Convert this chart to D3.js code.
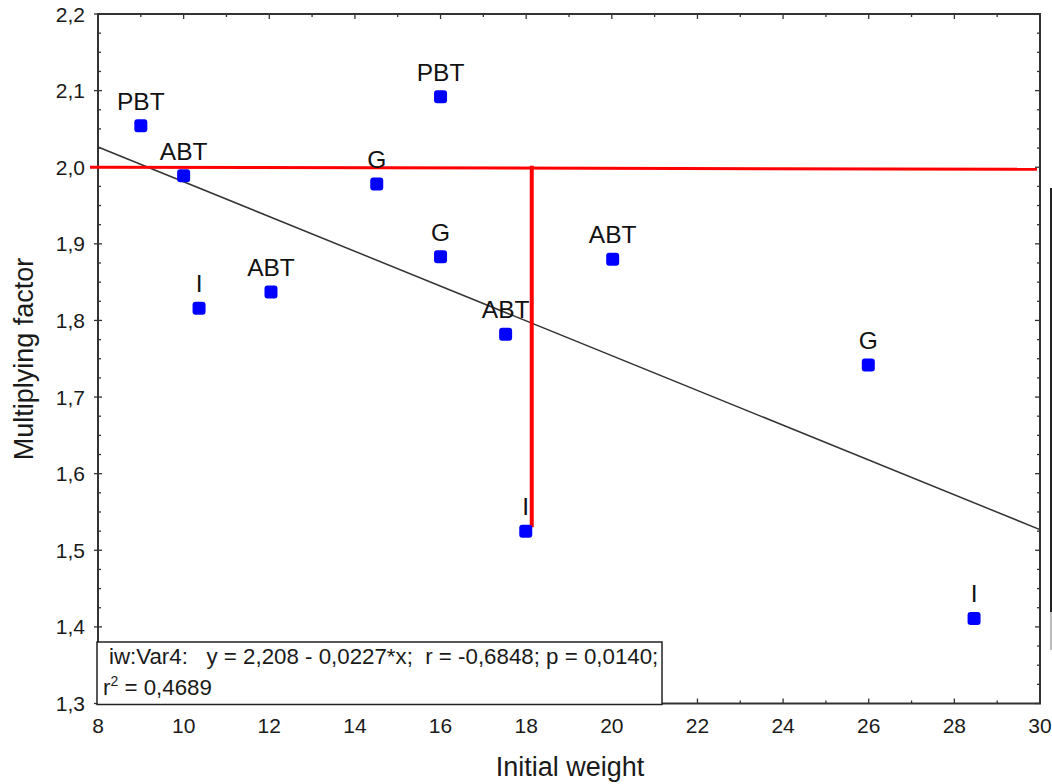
<!DOCTYPE html>
<html>
<head>
<meta charset="utf-8">
<script src="https://cdn.jsdelivr.net/npm/d3@7/dist/d3.min.js"></script>
<style>
    body { margin: 0; background: #fff; }
    svg { font-family: "Liberation Sans", Arial, sans-serif; }
    .tickLabel { font-size: 21px; fill: #1a1a1a; }
    .ptLabel { font-size: 24.5px; fill: #111; }
    .axisTitle { font-size: 27px; fill: #1a1a1a; }
    .regText { font-size: 22.3px; fill: #1a1a1a; white-space: pre; }
</style>
</head>
<body>
<svg id="chart" width="1052" height="784"></svg>
<script>
// data
var weights = [9.0, 10.0, 10.36, 12.04, 14.51, 16.0, 16.0, 17.52, 17.99, 20.02, 25.99, 28.46];
var factors = [2.054, 1.989, 1.816, 1.837, 1.978, 2.092, 1.883, 1.782, 1.525, 1.880, 1.742, 1.411];
var groups  = ["PBT", "ABT", "I", "ABT", "G", "PBT", "G", "ABT", "I", "ABT", "G", "I"];

var xTicks = [8, 10, 12, 14, 16, 18, 20, 22, 24, 26, 28, 30];
var yTicks = [1.3, 1.4, 1.5, 1.6, 1.7, 1.8, 1.9, 2.0, 2.1, 2.2];

// regression y = a + b*x
var regA = 2.208, regB = -0.0227;
var regLines = ["iw:Var4:   y = 2,208 - 0,0227*x;  r = -0,6848; p = 0,0140;", "= 0,4689"];

// red reference lines
var refLevel = 2.0, refX = 18.13, refYEnd = 1.53;

var svg = d3.select("#chart");
var pLeft = 98, pRight = 1040, pTop = 14, pBottom = 703.5;

var xScale = d3.scaleLinear().domain([8, 30]).range([pLeft, pRight]);
var yScale = d3.scaleLinear().domain([1.3, 2.2]).range([pBottom, pTop]);

var fmt = function(d) { return d3.format(".1f")(d).replace(".", ","); };

// minor ticks
var xMinor = d3.range(9, 30, 2);
var yMinor = d3.range(1.3, 2.2001, 0.025).filter(function(d) { return Math.abs(Math.round(d * 10) - d * 10) > 0.01; });

var ticks = svg.append("g").attr("stroke", "#333").attr("stroke-width", 1.3);

xTicks.forEach(function(d) {
    ticks.append("line").attr("x1", xScale(d)).attr("x2", xScale(d)).attr("y1", pBottom).attr("y2", pBottom - 5);
    ticks.append("line").attr("x1", xScale(d)).attr("x2", xScale(d)).attr("y1", pTop).attr("y2", pTop + 5);
});
xMinor.forEach(function(d) {
    ticks.append("line").attr("x1", xScale(d)).attr("x2", xScale(d)).attr("y1", pBottom).attr("y2", pBottom - 3);
    ticks.append("line").attr("x1", xScale(d)).attr("x2", xScale(d)).attr("y1", pTop).attr("y2", pTop + 3);
});
yTicks.forEach(function(d) {
    ticks.append("line").attr("x1", pLeft - 4).attr("x2", pLeft + 4).attr("y1", yScale(d)).attr("y2", yScale(d));
    ticks.append("line").attr("x1", pRight).attr("x2", pRight - 5).attr("y1", yScale(d)).attr("y2", yScale(d));
});
yMinor.forEach(function(d) {
    ticks.append("line").attr("x1", pLeft).attr("x2", pLeft + 3).attr("y1", yScale(d)).attr("y2", yScale(d));
    ticks.append("line").attr("x1", pRight).attr("x2", pRight - 3).attr("y1", yScale(d)).attr("y2", yScale(d));
});

// frame
svg.append("rect")
    .attr("x", pLeft).attr("y", pTop)
    .attr("width", pRight - pLeft).attr("height", pBottom - pTop)
    .attr("fill", "none").attr("stroke", "#333").attr("stroke-width", 2);

// tick labels
svg.selectAll(".xLab").data(xTicks).enter().append("text")
    .attr("class", "tickLabel")
    .attr("x", d => xScale(d)).attr("y", 733)
    .attr("text-anchor", "middle")
    .text(d => d);

svg.selectAll(".yLab").data(yTicks).enter().append("text")
    .attr("class", "tickLabel")
    .attr("x", 85).attr("y", d => yScale(d) + 7.5)
    .attr("text-anchor", "end")
    .text(fmt);

// axis titles
svg.append("text").attr("class", "axisTitle")
    .attr("x", 570).attr("y", 776).attr("text-anchor", "middle")
    .text("Initial weight");
svg.append("text").attr("class", "axisTitle")
    .attr("transform", "translate(33," + 359 + ") rotate(-90)")
    .attr("text-anchor", "middle")
    .text("Multiplying factor");

// regression line
svg.append("line")
    .attr("x1", xScale(8)).attr("y1", yScale(regA + regB * 8))
    .attr("x2", xScale(30)).attr("y2", yScale(regA + regB * 30))
    .attr("stroke", "#333").attr("stroke-width", 1.5);

// red lines
svg.append("line")
    .attr("x1", 90).attr("x2", pRight - 3)
    .attr("y1", yScale(refLevel)).attr("y2", yScale(refLevel) + 2)
    .attr("stroke", "#f00").attr("stroke-width", 3);
svg.append("line")
    .attr("x1", xScale(refX)).attr("x2", xScale(refX))
    .attr("y1", yScale(refLevel) - 1.5).attr("y2", yScale(refYEnd))
    .attr("stroke", "#f00").attr("stroke-width", 4);

// points
var pts = svg.selectAll(".pt").data(weights).enter().append("g")
    .attr("transform", (d, i) => "translate(" + xScale(d) + "," + yScale(factors[i]) + ")");

pts.append("rect")
    .attr("x", -6.5).attr("y", -6.5).attr("width", 13).attr("height", 13)
    .attr("rx", 3).attr("fill", "#0000ff");

pts.append("text")
    .attr("class", "ptLabel")
    .attr("y", -16).attr("text-anchor", "middle")
    .text((d, i) => groups[i]);

// regression box
var box = svg.append("g");
box.append("rect")
    .attr("x", pLeft - 1).attr("y", 642)
    .attr("width", 662 - pLeft + 1).attr("height", pBottom - 642 + 1)
    .attr("fill", "#fff").attr("stroke", "#222").attr("stroke-width", 1.5);
box.append("text").attr("class", "regText")
    .attr("x", 109).attr("y", 664)
    .text(regLines[0]);
var r2 = box.append("text").attr("class", "regText")
    .attr("x", 103).attr("y", 695);
r2.append("tspan").text("r");
r2.append("tspan").attr("dy", -9).attr("font-size", 14).text("2");
r2.append("tspan").attr("dy", 9).text(" " + regLines[1]);

// edge of neighbouring figure at right border
svg.append("line")
    .attr("x1", 1051).attr("x2", 1051).attr("y1", 188).attr("y2", 612)
    .attr("stroke", "#222").attr("stroke-width", 2);
svg.append("line")
    .attr("x1", 1051).attr("x2", 1051).attr("y1", 612).attr("y2", 650)
    .attr("stroke", "#bbb").attr("stroke-width", 2);
</script>
</body>
</html>
